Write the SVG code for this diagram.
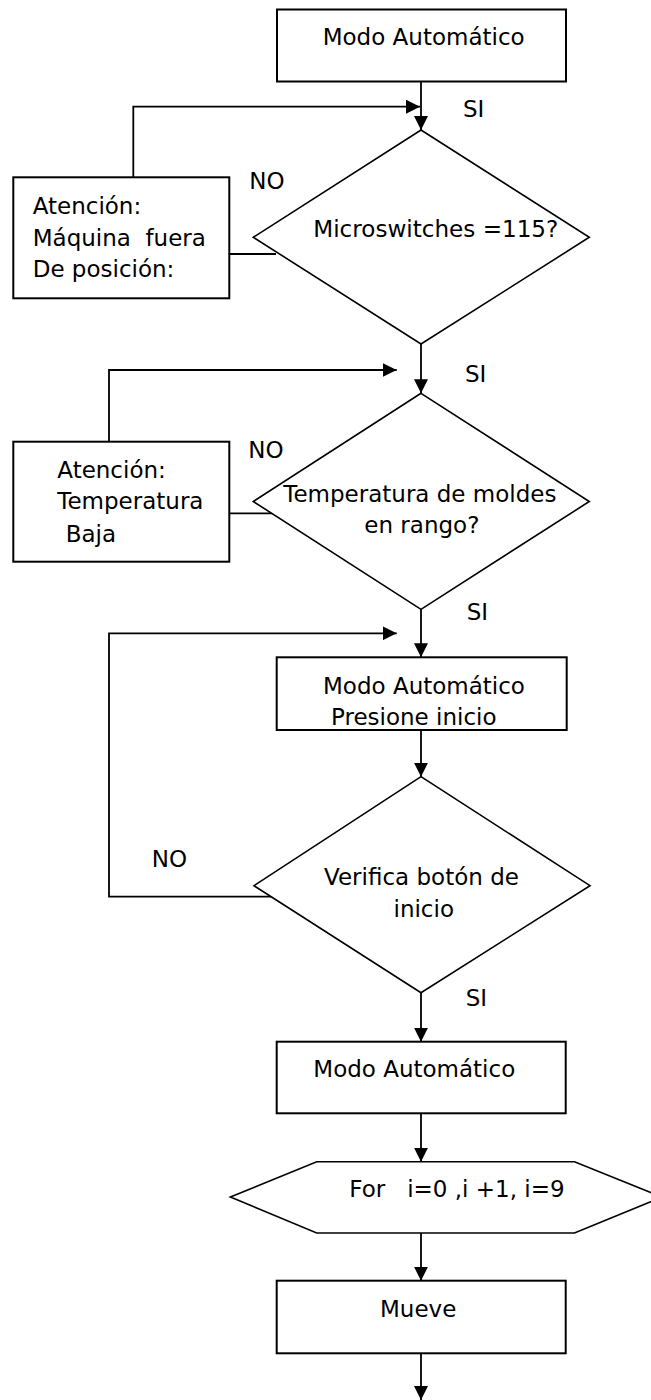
<svg xmlns="http://www.w3.org/2000/svg" width="651" height="1400" viewBox="0 0 651 1400">
<style>
  text { font-family: "DejaVu Sans", "Liberation Sans", sans-serif; font-size: 23px; fill: #000; white-space: pre; }
  .box { fill: #fff; stroke: #000; stroke-width: 2; }
  .dia { fill: #fff; stroke: #000; stroke-width: 1.6; }
  .con { fill: none; stroke: #000; stroke-width: 1.8; }
</style>
<defs>
  <marker id="arr" markerUnits="userSpaceOnUse" markerWidth="15" markerHeight="14" refX="14" refY="7" orient="auto">
    <path d="M0,0 L14,7 L0,14 Z" fill="#000"/>
  </marker>
</defs>
<rect width="651" height="1400" fill="#fff"/>

<g id="connectors">
  <line class="con" x1="421" y1="82" x2="421" y2="130" marker-end="url(#arr)"/>
  <polyline class="con" points="133.3,177.3 133.3,106.7 420,106.7" marker-end="url(#arr)"/>
  <line class="con" x1="229.3" y1="254" x2="276" y2="254"/>
  <line class="con" x1="421" y1="344" x2="421" y2="393.3" marker-end="url(#arr)"/>
  <polyline class="con" points="109,441.7 109,370 396.7,370" marker-end="url(#arr)"/>
  <line class="con" x1="229.3" y1="513.3" x2="277.3" y2="513.3"/>
  <line class="con" x1="421" y1="609.3" x2="421" y2="657.3" marker-end="url(#arr)"/>
  <polyline class="con" points="277.3,896.7 109,896.7 109,633.3 396.7,633.3" marker-end="url(#arr)"/>
  <line class="con" x1="421" y1="730" x2="421" y2="776.7" marker-end="url(#arr)"/>
  <line class="con" x1="421" y1="992.7" x2="421" y2="1041.7" marker-end="url(#arr)"/>
  <line class="con" x1="421" y1="1113.3" x2="421" y2="1161.7" marker-end="url(#arr)"/>
  <line class="con" x1="421" y1="1233" x2="421" y2="1280.7" marker-end="url(#arr)"/>
  <line class="con" x1="421" y1="1353.3" x2="421" y2="1400" marker-end="url(#arr)"/>
</g>

<g id="labels">
  <text x="463" y="117">SI</text>
  <text x="465" y="382.3">SI</text>
  <text x="466.7" y="620">SI</text>
  <text x="465.7" y="1005.7">SI</text>
  <text x="249.3" y="189.3">NO</text>
  <text x="248.3" y="458.3">NO</text>
  <text x="151.7" y="866.7">NO</text>
</g>

<g id="start">
  <rect class="box" x="277" y="9.5" width="289" height="72"/>
  <text x="322.7" y="45">Modo Automático</text>
</g>

<g id="alert1">
  <rect class="box" x="13.3" y="177.3" width="216" height="121"/>
  <text x="32.7" y="214.3">Atención:</text>
  <text x="32.7" y="246">Máquina  fuera</text>
  <text x="32.7" y="276.7">De posición:</text>
</g>

<g id="decision1">
  <polygon class="dia" points="421,130 589.3,237.3 421,344 253.3,237.3"/>
  <text x="313.3" y="237.3" textLength="245" lengthAdjust="spacingAndGlyphs">Microswitches =115?</text>
</g>

<g id="alert2">
  <rect class="box" x="13.3" y="441.7" width="216" height="120"/>
  <text x="57.3" y="477.7">Atención:</text>
  <text x="57.3" y="509.3">Temperatura</text>
  <text x="65.7" y="541.7">Baja</text>
</g>

<g id="decision2">
  <polygon class="dia" points="421,393.3 589.3,501.5 421,609.3 253.3,501.5"/>
  <text x="283.3" y="501.7">Temperatura de moldes</text>
  <text x="364.3" y="533.3">en rango?</text>
</g>

<g id="prompt">
  <rect class="box" x="276.7" y="657.3" width="290" height="72.7"/>
  <text x="323" y="694">Modo Automático</text>
  <text x="331" y="725">Presione inicio</text>
</g>

<g id="decision3">
  <polygon class="dia" points="421,776.7 590,885.7 421,992.7 254,885.7"/>
  <text x="324" y="885">Verifica botón de</text>
  <text x="393.5" y="916.7">inicio</text>
</g>

<g id="auto">
  <rect class="box" x="276.7" y="1041.7" width="289" height="71.6"/>
  <text x="313.3" y="1076.7">Modo Automático</text>
</g>

<g id="loop">
  <polygon class="dia" points="230.4,1197 316.7,1161.7 574.5,1161.7 662,1197 574.5,1233 316.7,1233"/>
  <text x="349.3" y="1197.3">For   i=0 ,i +1, i=9</text>
</g>

<g id="move">
  <rect class="box" x="276.7" y="1280.7" width="289" height="72.6"/>
  <text x="380" y="1317.3">Mueve</text>
</g>
</svg>
